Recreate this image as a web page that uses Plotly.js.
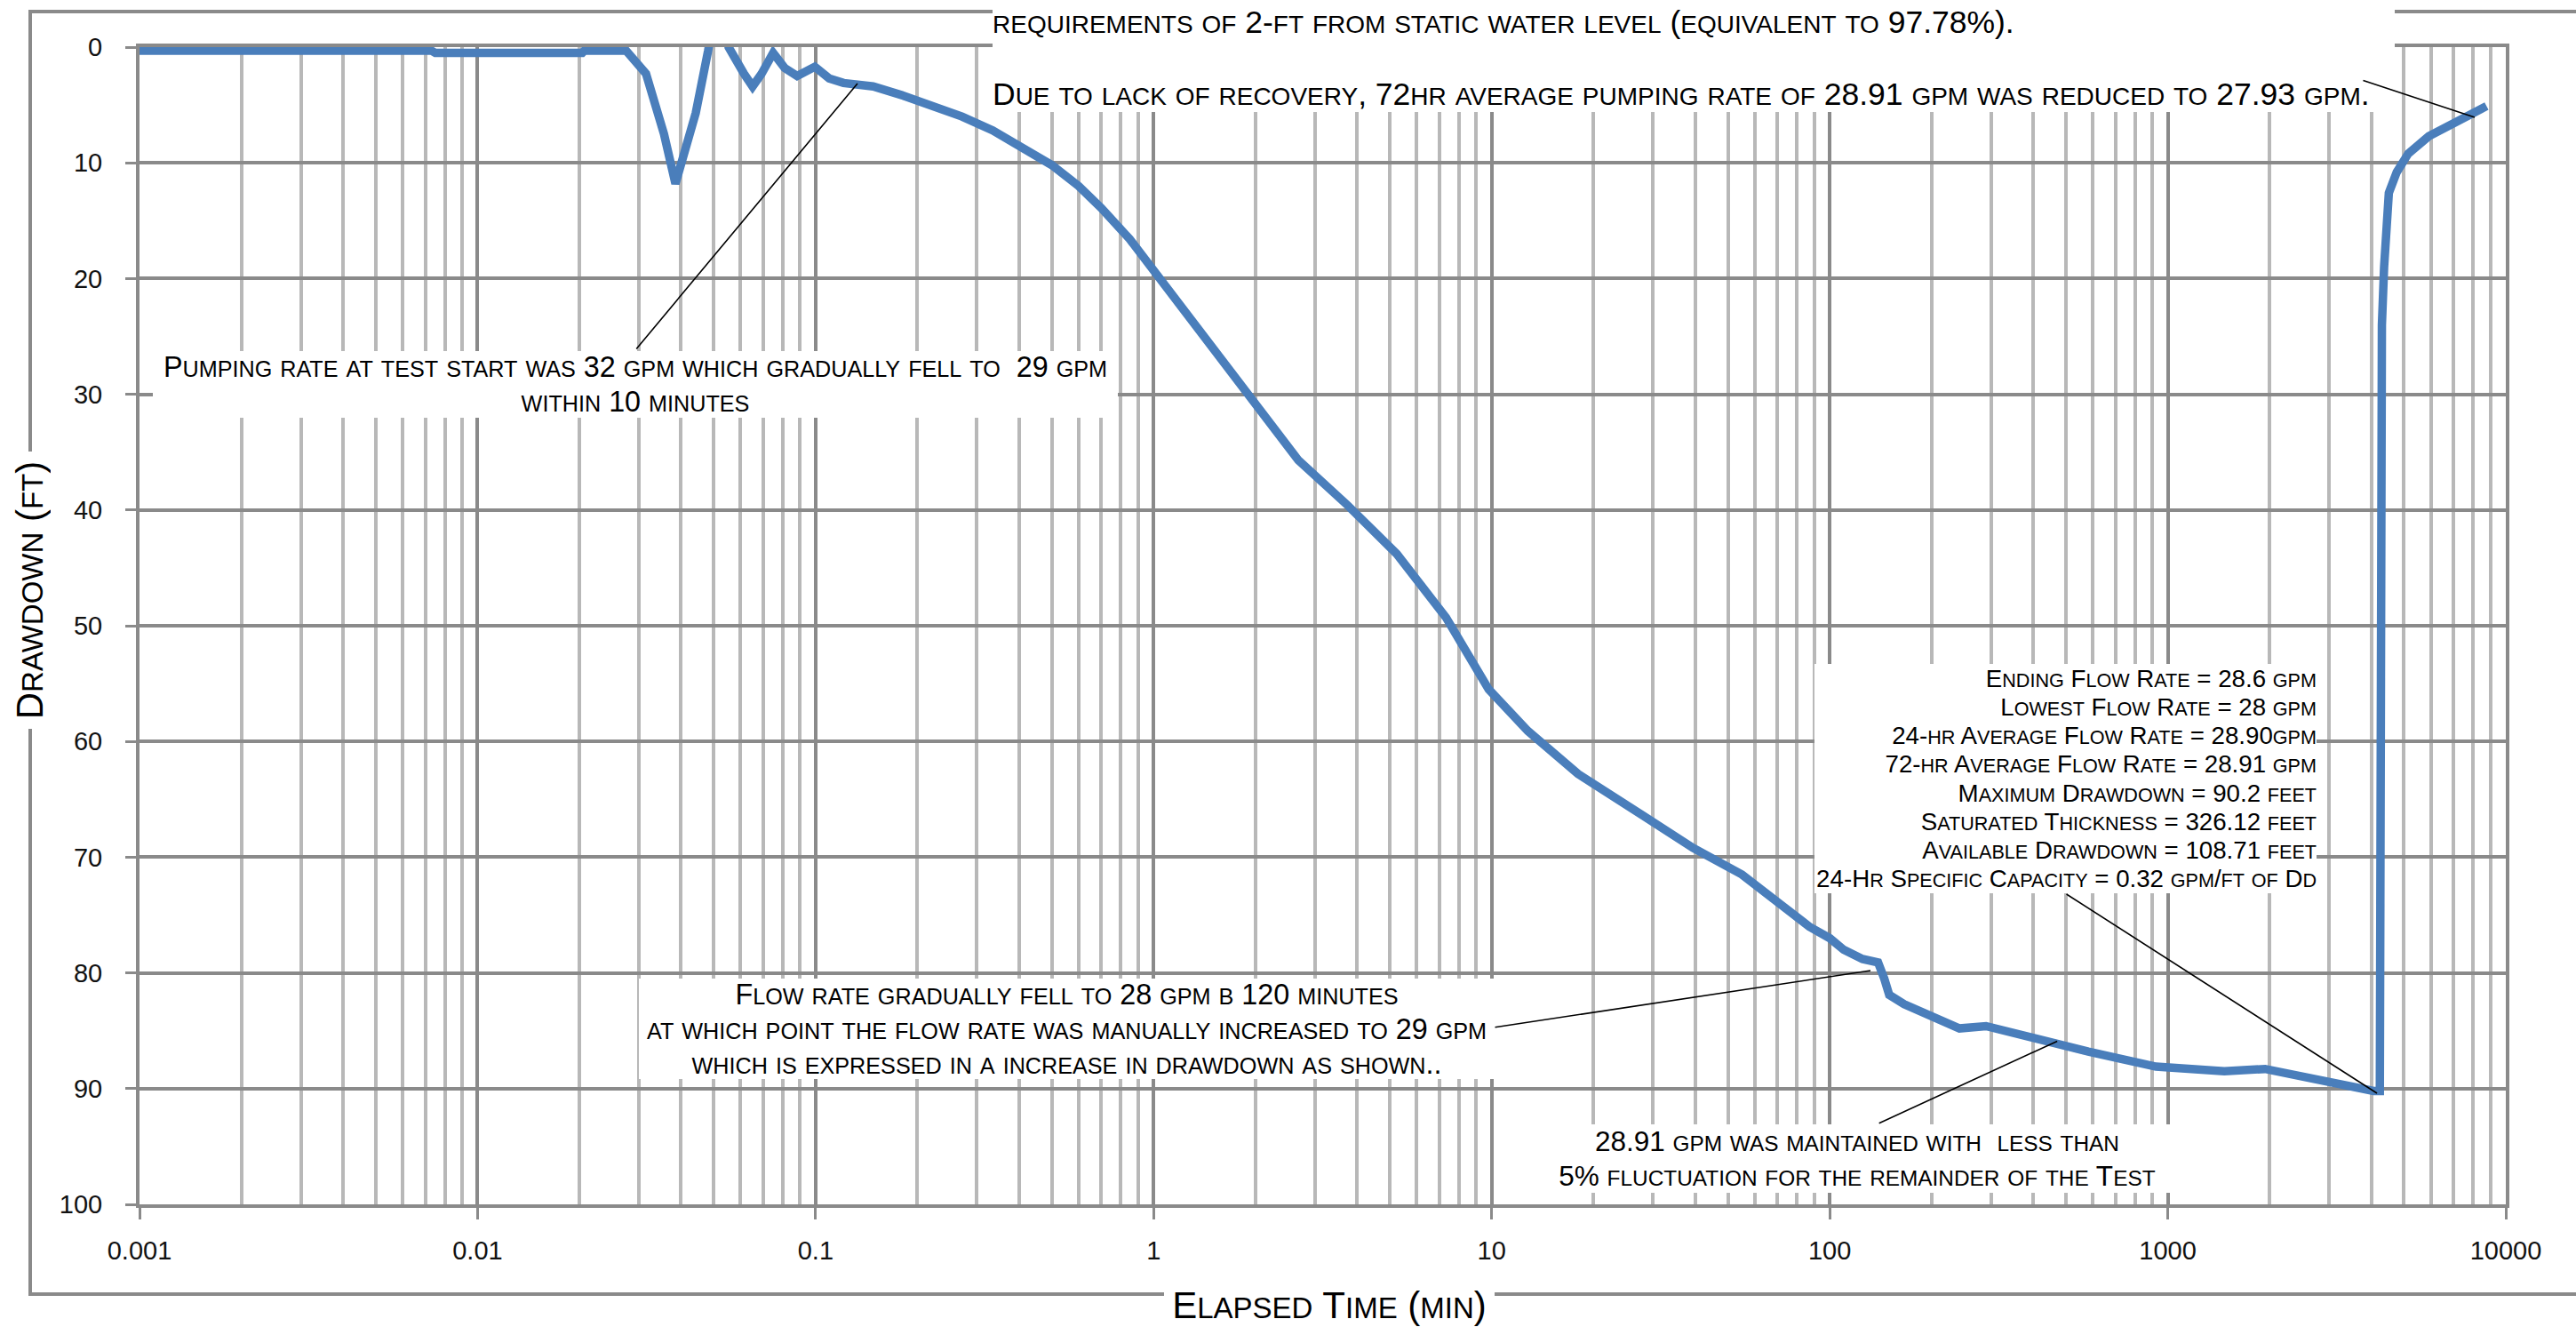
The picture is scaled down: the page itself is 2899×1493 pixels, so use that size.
<!DOCTYPE html>
<html><head><meta charset="utf-8">
<script src="https://cdn.plot.ly/plotly-3.0.1.min.js"></script>
<style>html,body{margin:0;padding:0;background:#fff}#chart{width:2899px;height:1493px}</style>
</head><body><div id="chart"></div>
<script>
// ---- data ----
const elapsedMin = [0.001,0.0073,0.0075,0.0204,0.0207,0.0275,0.0315,0.0356,0.0385,0.0408,0.0442,0.0481,0.05,0.0535,0.0553,0.0614,0.0651,0.0692,0.0749,0.081,0.0882,0.0995,0.1097,0.121,0.148,0.182,0.221,0.271,0.334,0.408,0.5,0.6,0.7,0.85,1.0,1.22,1.5,1.92,2.68,3.75,5.24,7.33,9.8,12.8,18.0,28.0,39.4,55.0,77.0,87.0,100,110,125,139,145,150,166,210,242,290,384,582,923,1470,1941,2675,4064,4240,4250,4262,4275,4300,4365,4426,4508,4758,5146,5918,6966,8200,8770];
const drawdownFt = [0.3,0.3,0.5,0.5,0.3,0.3,2.3,7.5,11.8,9.2,5.7,0.3,-2.5,-2.5,0,2.3,3.4,2.3,0.5,1.8,2.5,1.7,2.7,3.1,3.4,4.2,5.0,6.0,7.2,8.6,10.2,12.0,13.9,16.6,19.3,22.5,26.0,30.1,35.7,39.6,43.8,49.3,55.5,59.1,62.8,66.4,69.2,71.5,74.8,76.0,77.0,78.0,78.8,79.1,80.5,81.9,82.7,84.0,84.8,84.6,85.5,86.8,88.1,88.5,88.3,89.2,90.2,90.2,70,45,30,24,19.0,15.4,12.6,10.8,9.2,7.7,6.7,5.7,5.1];

const xTickVals = [0.001,0.01,0.1,1,10,100,1000,10000];
const xTickText = ["0.001","0.01","0.1","1","10","100","1000","10000"];
const yTickVals = [0,10,20,30,40,50,60,70,80,90,100];
const yTickText = ["0","10","20","30","40","50","60","70","80","90","100"];

// leader-line targets on the curve
const calloutTimes = [0.133, 132, 471, 4159, 8090];
const calloutDrawdowns = [3.15, 79.8, 85.9, 90.4, 6.07];

const xAxisTitle = "Elapsed Time (min)";
const yAxisTitle = "Drawdown (ft)";
const topNoteA = "requirements of 2-ft from static water level (equivalent to 97.78%).";
const topNoteB = "Due to lack of recovery, 72hr average pumping rate of 28.91 gpm was reduced to 27.93 gpm.";
const pumpNote = ["Pumping rate at test start was 32 gpm which gradually fell to  29 gpm", "within 10 minutes"];
const flowNote = ["Flow rate gradually fell to 28 gpm b 120 minutes", "at which point the flow rate was manually increased to 29 gpm", "which is expressed in a increase in drawdown as shown.."];
const maintNote = ["28.91 gpm was maintained with  less than", "5% fluctuation for the remainder of the Test"];
const statsNote = ["Ending Flow Rate = 28.6 gpm", "Lowest Flow Rate = 28 gpm", "24-hr Average Flow Rate = 28.90gpm", "72-hr Average Flow Rate = 28.91 gpm", "Maximum Drawdown = 90.2 feet", "Saturated Thickness = 326.12 feet", "Available Drawdown = 108.71 feet", "24-Hr Specific Capacity = 0.32 gpm/ft of Dd"];

// ---- helpers ----
const FONT = "Liberation Sans, Arial, sans-serif";
const W = 2899, H = 1493, ML = 157, MR = 79, MT = 53, MB = 138;
const PW = W - ML - MR, PH = H - MT - MB;
const px = X => (X - ML) / PW;
const py = Y => (H - MB - Y) / PH;

function smallCaps(str, big, small) {
  let out = "", i = 0;
  while (i < str.length) {
    const lower = /[a-z]/.test(str[i]);
    let j = i;
    while (j < str.length && /[a-z]/.test(str[j]) === lower) j++;
    const run = str.slice(i, j).replace(/ {2,}/g, m => "\u00a0".repeat(m.length));
    out += `<span style="font-size:${lower ? small : big}px">${lower ? run.toUpperCase() : run}</span>`;
    i = j;
  }
  return out;
}
function box(lines, big, small, base, cx, cy, w, h, align, valign) {
  const a = {
    xref: "paper", yref: "paper", x: px(cx), y: py(cy), xanchor: "center", yanchor: "middle",
    text: lines.map(l => smallCaps(l, big, small)).join("<br>"),
    showarrow: false, align: align || "center", valign: valign || "middle",
    bgcolor: "#ffffff", borderpad: 0, borderwidth: 0,
    font: {family: FONT, size: base, color: "#000000"}
  };
  if (w) a.width = w;
  if (h) a.height = h;
  return a;
}
function leader(i, ax, ay) {
  return {
    xref: "x", yref: "y", x: Math.log10(calloutTimes[i]), y: calloutDrawdowns[i],
    text: "", showarrow: true, arrowhead: 0, arrowwidth: 1.6, arrowcolor: "#000000",
    ax: ax, ay: ay, standoff: 0, startstandoff: 0
  };
}

const GRID = "#8a8a8a", MINOR = "#b8b8b8";

const trace = {
  x: elapsedMin, y: drawdownFt, type: "scatter", mode: "lines",
  line: {color: "#4a7ebb", width: 9.5}, hoverinfo: "skip", showlegend: false
};

const yTitle = box([yAxisTitle], 42, 33, 42, 34, 664, 312, null);
yTitle.textangle = -90;
const xTitle = box([xAxisTitle], 42, 33, 40, 1496, 1468, 372, null);

const annotations = [
  box([topNoteA], 35.5, 28, 35, 1906, 25, 1578, 50, "left", "middle"),
  box([topNoteB], 35.5, 28, 35, 1906, 88, 1578, 76, "left", "bottom"),
  box(pumpNote, 32.3, 25.2, 30.5, 715, 432, 1086, 75),
  box(flowNote, 32.3, 25.2, 30, 1200, 1157, 963, 113),
  box(maintNote, 31.5, 24.4, 30, 2090, 1303, 760, 77),
  box(statsNote, 27.7, 21.6, 24.8, 2324, 876, 565, 258, "right"),
  leader(0, -250, 300),
  leader(1, -424, 64),
  leader(2, -202, 93),
  leader(3, -351, -225),
  leader(4, -127, -42),
  yTitle,
  xTitle
];

const layout = {
  width: W, height: H,
  margin: {l: ML, r: MR, t: MT, b: MB, pad: 0},
  paper_bgcolor: "#ffffff", plot_bgcolor: "#ffffff",
  showlegend: false,
  font: {family: FONT, color: "#111111"},
  xaxis: {
    type: "log", range: [-3, 4], tickmode: "array", tickvals: xTickVals, ticktext: xTickText,
    showgrid: true, gridcolor: GRID, gridwidth: 4,
    minor: {dtick: "D1", showgrid: true, gridcolor: MINOR, gridwidth: 4, ticks: ""},
    showline: true, linecolor: GRID, linewidth: 4, mirror: true,
    ticks: "outside", ticklen: 13, tickwidth: 3, tickcolor: GRID,
    tickfont: {family: FONT, size: 29, color: "#111111"}, ticklabelstandoff: 10,
    zeroline: false, automargin: false, fixedrange: true
  },
  yaxis: {
    range: [100, 0], tickmode: "array", tickvals: yTickVals, ticktext: yTickText,
    showgrid: true, gridcolor: GRID, gridwidth: 4,
    showline: true, linecolor: GRID, linewidth: 4, mirror: true,
    ticks: "outside", ticklen: 12, tickwidth: 3, tickcolor: GRID,
    tickfont: {family: FONT, size: 29, color: "#111111"}, ticklabelstandoff: 20,
    zeroline: false, automargin: false, fixedrange: true
  },
  shapes: [{
    type: "rect", xref: "paper", yref: "paper",
    x0: px(34), x1: px(2915), y0: py(1456), y1: py(13),
    line: {color: GRID, width: 4}, fillcolor: "rgba(0,0,0,0)", layer: "below"
  }],
  annotations: annotations
};

Plotly.newPlot("chart", [trace], layout, {staticPlot: true, displayModeBar: false});
</script>
</body></html>
